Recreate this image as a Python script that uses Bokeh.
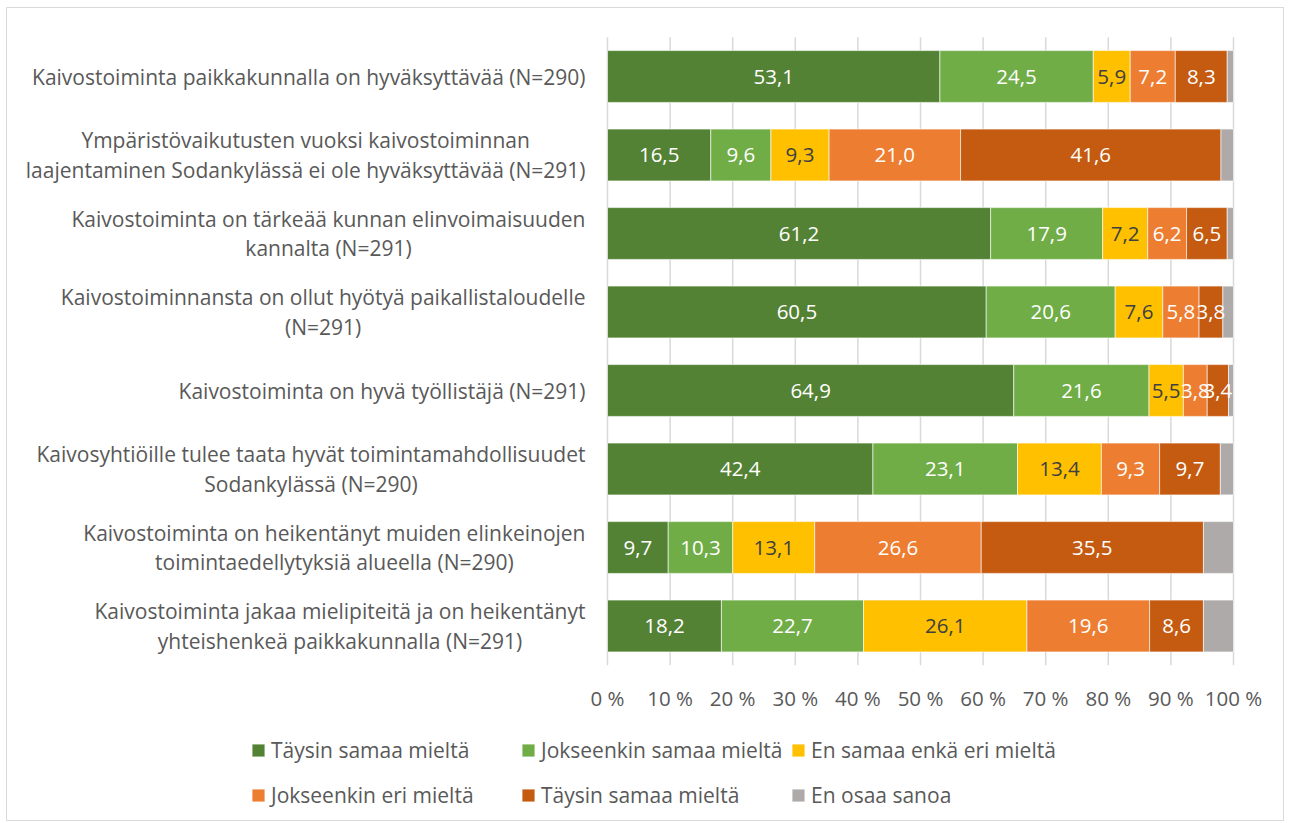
from bokeh.plotting import figure
from bokeh.models import ColumnDataSource, Range1d, Legend, LegendItem
from bokeh.core.properties import value
from bokeh.embed import file_html
from bokeh.resources import INLINE

categories = [
    "Kaivostoiminta paikkakunnalla on hyväksyttävää (N=290)",
    "Ympäristövaikutusten vuoksi kaivostoiminnan\nlaajentaminen Sodankylässä ei ole hyväksyttävää (N=291)",
    "Kaivostoiminta on tärkeää kunnan elinvoimaisuuden\nkannalta (N=291)",
    "Kaivostoiminnansta on ollut hyötyä paikallistaloudelle\n(N=291)",
    "Kaivostoiminta on hyvä työllistäjä (N=291)",
    "Kaivosyhtiöille tulee taata hyvät toimintamahdollisuudet\nSodankylässä (N=290)",
    "Kaivostoiminta on heikentänyt muiden elinkeinojen\ntoimintaedellytyksiä alueella (N=290)",
    "Kaivostoiminta jakaa mielipiteitä ja on heikentänyt\nyhteishenkeä paikkakunnalla (N=291)",
]
taysin_samaa = [53.1, 16.5, 61.2, 60.5, 64.9, 42.4, 9.7, 18.2]
jokseenkin_samaa = [24.5, 9.6, 17.9, 20.6, 21.6, 23.1, 10.3, 22.7]
en_samaa_enka_eri = [5.9, 9.3, 7.2, 7.6, 5.5, 13.4, 13.1, 26.1]
jokseenkin_eri = [7.2, 21.0, 6.2, 5.8, 3.8, 9.3, 26.6, 19.6]
taysin_eri = [8.3, 41.6, 6.5, 3.8, 3.4, 9.7, 35.5, 8.6]
en_osaa = [1.0, 2.0, 1.0, 1.7, 0.8, 2.1, 4.8, 4.8]

series_names = ["Täysin samaa mieltä", "Jokseenkin samaa mieltä", "En samaa enkä eri mieltä",
                "Jokseenkin eri mieltä", "Täysin samaa mieltä", "En osaa sanoa"]
series_values = [taysin_samaa, jokseenkin_samaa, en_samaa_enka_eri, jokseenkin_eri, taysin_eri, en_osaa]
colors = ["#548235", "#70AD47", "#FFC000", "#ED7D31", "#C55A11", "#AEAAAA"]
label_colors = ["#FFFFFF", "#FFFFFF", "#404040", "#FFFFFF", "#FFFFFF", None]
x_ticks = [0, 10, 20, 30, 40, 50, 60, 70, 80, 90, 100]
x_tick_labels = ["%d %%" % t for t in x_ticks]

FONT = "Open Sans"
GRAY = "#595959"

# ---- layout constants (page pixels; figure sits at the page origin) ----
W, H = 1284, 821
FRAME_L, FRAME_R, FRAME_T, FRAME_B = 6, 1283, 7, 820   # frame outline = chart border
ZERO_X, HUNDRED_X = 607, 1233                           # 0 % and 100 % positions
ROW0_Y, ROW_PITCH = 76, 78.5                            # centre of first bar row, row pitch
CAT_LABEL_RIGHT = 585
TICK_LABEL_Y = 697
LEGEND_LEFT, LEGEND_ROW_Y = 250, [750, 795]

n = len(categories)
px_x = (HUNDRED_X - ZERO_X) / 100.0
x_start = -(ZERO_X - FRAME_L) / px_x
x_end = 100 + (FRAME_R - HUNDRED_X) / px_x
top_val = n - 1
y_end = top_val + (ROW0_Y - FRAME_T) / ROW_PITCH
y_start = top_val - (FRAME_B - ROW0_Y) / ROW_PITCH
cat_label_x = -(ZERO_X - CAT_LABEL_RIGHT) / px_x
tick_label_y = top_val - (TICK_LABEL_Y - ROW0_Y) / ROW_PITCH

ypos = [n - 1 - i for i in range(n)]
keys = ["s%d" % i for i in range(len(series_values))]
data = {"y": ypos, "cat": categories}
for k, v in zip(keys, series_values):
    data[k] = v
source = ColumnDataSource(data)

p = figure(width=W, height=H, output_backend="svg", toolbar_location=None,
           x_range=Range1d(x_start, x_end), y_range=Range1d(y_start, y_end),
           x_axis_type=None, y_axis_type=None,
           min_border_left=FRAME_L, min_border_right=W - FRAME_R,
           min_border_top=FRAME_T, min_border_bottom=H - FRAME_B)
p.outline_line_color = "#D9D9D9"
p.outline_line_width = 1
p.xgrid.visible = False
p.ygrid.visible = False

# vertical gridlines at the value ticks, spanning the category band
p.segment(x0=x_ticks, y0=[-0.5] * len(x_ticks), x1=x_ticks, y1=[n - 0.5] * len(x_ticks),
          line_color="#D9D9D9", line_width=1.5)

renderers = p.hbar_stack(keys, y="y", height=0.66, source=source, color=colors,
                         line_color="white", line_width=0.6)

# value-axis tick labels
p.text(x=x_ticks, y=[tick_label_y] * len(x_ticks), text=x_tick_labels,
       text_align="center", text_baseline="middle", text_color=GRAY,
       text_font=value(FONT), text_font_size="20.5px")

# category labels (block right-aligned, lines centred)
p.text(x=[cat_label_x] * n, y=ypos, text=categories,
       anchor="center_right", text_align="center", text_baseline="middle",
       text_color=GRAY, text_font=value(FONT), text_font_size="21px", text_line_height=1.04)

# data labels
for i, vals in enumerate(series_values):
    if label_colors[i] is None:
        continue
    xs, txt = [], []
    for j in range(n):
        left = sum(series_values[k][j] for k in range(i))
        xs.append(left + vals[j] / 2)
        txt.append(("%.1f" % vals[j]).replace(".", ","))
    p.text(x=xs, y=ypos, text=txt, text_align="center", text_baseline="middle",
           text_color=label_colors[i], text_font=value(FONT), text_font_size="20.5px")

# legend: two rows of three equal-width columns
items = [LegendItem(label=nm, renderers=[r]) for nm, r in zip(series_names, renderers)]
LEG_FONT_PX = 21
item_h = 1.37 * LEG_FONT_PX
common = dict(orientation="horizontal",
              label_text_font=FONT, label_text_font_size="%dpx" % LEG_FONT_PX,
              label_text_color=GRAY, glyph_width=16, glyph_height=16, label_standoff=5,
              spacing=5, label_width=244, label_height=20, padding=0, margin=0,
              border_line_color=None, background_fill_alpha=0)
for r in range(2):
    bottom = LEGEND_ROW_Y[r] + item_h / 2
    leg = Legend(items=items[3 * r:3 * r + 3],
                 location=(LEGEND_LEFT - FRAME_L, FRAME_B - bottom), **common)
    p.add_layout(leg, "center")

open("out.html", "w").write(file_html(p, INLINE))
